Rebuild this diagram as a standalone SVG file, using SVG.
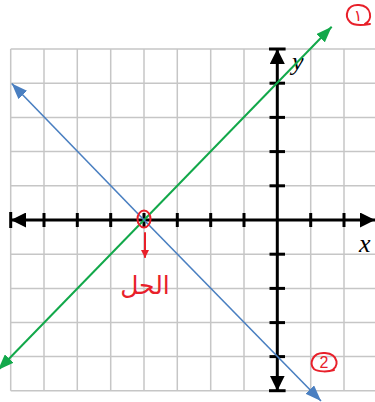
<svg xmlns="http://www.w3.org/2000/svg" width="375" height="402" viewBox="0 0 375 402">
<style>
.grid line{stroke:#c6c6c6;stroke-width:1.5}
.axis{stroke:#000;stroke-width:3;fill:none}
.tick{stroke:#000;stroke-width:3}
.green{stroke:#12a84a;stroke-width:2;fill:none}
.blue{stroke:#4a7fc1;stroke-width:1.6;fill:none}
.red{stroke:#e8202a;stroke-width:2;fill:none;stroke-linecap:round}
.redtxt{fill:#e8202a}
.lbl{font-family:"Liberation Serif",serif;font-style:italic;font-size:26px;fill:#000}
</style>
<defs>
<marker id="ag" markerUnits="userSpaceOnUse" viewBox="0 0 16 12" markerWidth="16" markerHeight="12" refX="16" refY="6" orient="auto"><path d="M0,0 L16,6 L0,12 z" fill="#12a84a"/></marker>
<marker id="ab" markerUnits="userSpaceOnUse" viewBox="0 0 16 12" markerWidth="16" markerHeight="12" refX="16" refY="6" orient="auto"><path d="M0,0 L16,6 L0,12 z" fill="#4a7fc1"/></marker>
<marker id="ak" markerUnits="userSpaceOnUse" viewBox="0 0 15 15" markerWidth="15" markerHeight="15" refX="15" refY="7.5" orient="auto"><path d="M0,0 L15,7.5 L0,15 z" fill="#000"/></marker>
<marker id="ar" markerUnits="userSpaceOnUse" viewBox="0 0 8 8" markerWidth="8" markerHeight="8" refX="7" refY="4" orient="auto"><path d="M0,0 L8,4 L0,8 z" fill="#e8202a"/></marker>
</defs>
<rect width="375" height="402" fill="#fff"/>
<g id="grid" class="grid">
<line x1="10.7" y1="49" x2="10.7" y2="390.7"/>
<line x1="44" y1="49" x2="44" y2="390.7"/>
<line x1="77.3" y1="49" x2="77.3" y2="390.7"/>
<line x1="110.7" y1="49" x2="110.7" y2="390.7"/>
<line x1="144" y1="49" x2="144" y2="390.7"/>
<line x1="177.3" y1="49" x2="177.3" y2="390.7"/>
<line x1="210.7" y1="49" x2="210.7" y2="390.7"/>
<line x1="244" y1="49" x2="244" y2="390.7"/>
<line x1="310.7" y1="49" x2="310.7" y2="390.7"/>
<line x1="344" y1="49" x2="344" y2="390.7"/>
<line x1="10.7" y1="49" x2="375" y2="49"/>
<line x1="10.7" y1="83.2" x2="375" y2="83.2"/>
<line x1="10.7" y1="117.4" x2="375" y2="117.4"/>
<line x1="10.7" y1="151.6" x2="375" y2="151.6"/>
<line x1="10.7" y1="185.8" x2="375" y2="185.8"/>
<line x1="10.7" y1="254.2" x2="375" y2="254.2"/>
<line x1="10.7" y1="288.4" x2="375" y2="288.4"/>
<line x1="10.7" y1="322.6" x2="375" y2="322.6"/>
<line x1="10.7" y1="356.6" x2="375" y2="356.6"/>
<line x1="10.7" y1="390.7" x2="375" y2="390.7"/>
</g>
<g id="axes">
<line class="axis" x1="277.3" y1="220" x2="11" y2="220" marker-end="url(#ak)"/>
<line class="axis" x1="277.3" y1="220" x2="375" y2="220" marker-end="url(#ak)"/>
<line class="axis" x1="277.3" y1="220" x2="277.3" y2="49" marker-end="url(#ak)"/>
<line class="axis" x1="277.3" y1="220" x2="277.3" y2="390.7" marker-end="url(#ak)"/>
<g class="tick">
<line x1="10.7" y1="212" x2="10.7" y2="228"/>
<line x1="44" y1="213" x2="44" y2="227"/>
<line x1="77.3" y1="213" x2="77.3" y2="227"/>
<line x1="110.7" y1="213" x2="110.7" y2="227"/>
<line x1="144" y1="213" x2="144" y2="227"/>
<line x1="177.3" y1="213" x2="177.3" y2="227"/>
<line x1="210.7" y1="213" x2="210.7" y2="227"/>
<line x1="244" y1="213" x2="244" y2="227"/>
<line x1="310.7" y1="213" x2="310.7" y2="227"/>
<line x1="344" y1="213" x2="344" y2="227"/>
<line x1="269" y1="49" x2="285.6" y2="49"/>
<line x1="269.5" y1="83.2" x2="285" y2="83.2"/>
<line x1="269.5" y1="117.4" x2="285" y2="117.4"/>
<line x1="269.5" y1="151.6" x2="285" y2="151.6"/>
<line x1="269.5" y1="185.8" x2="285" y2="185.8"/>
<line x1="269.5" y1="254.2" x2="285" y2="254.2"/>
<line x1="269.5" y1="288.4" x2="285" y2="288.4"/>
<line x1="269.5" y1="322.6" x2="285" y2="322.6"/>
<line x1="269.5" y1="356.6" x2="285" y2="356.6"/>
<line x1="269" y1="390.7" x2="285.6" y2="390.7"/>
</g>
<text class="lbl" x="292" y="70">y</text>
<text class="lbl" x="359" y="252">x</text>
</g>
<g id="connectors">
<line id="line1" class="green" x1="144" y1="220" x2="331.7" y2="26.7" marker-end="url(#ag)"/>
<line class="green" x1="144" y1="220" x2="-2" y2="370" marker-end="url(#ag)"/>
<line id="line2" class="blue" x1="144" y1="220" x2="11.7" y2="83.5" marker-end="url(#ab)"/>
<line class="blue" x1="144" y1="220" x2="321" y2="401" marker-end="url(#ab)"/>
</g>
<g id="annotations">
<ellipse class="red" cx="144" cy="219" rx="6.5" ry="8.5"/>
<line class="red" x1="145" y1="233" x2="145" y2="257" marker-end="url(#ar)"/>
<text class="redtxt" x="145" y="294" text-anchor="middle" font-family="DejaVu Sans, sans-serif" font-size="25">الحل</text>
<g id="label1">
<path class="red" d="M365,24 C373,20 372,6 359,5 C347,4 344,16 350,22 C354,26 364,25 370,24"/>
<text class="redtxt" x="358" y="21" text-anchor="middle" font-family="DejaVu Sans, sans-serif" font-size="16">١</text>
</g>
<g id="label2">
<path class="red" d="M330,371 C340,368 339,354 325,353 C312,352 309,364 314,369 C318,372 328,372 334,370"/>
<text class="redtxt" x="324" y="368" text-anchor="middle" font-family="Liberation Sans, sans-serif" font-size="16">2</text>
</g>
</g>
</svg>
